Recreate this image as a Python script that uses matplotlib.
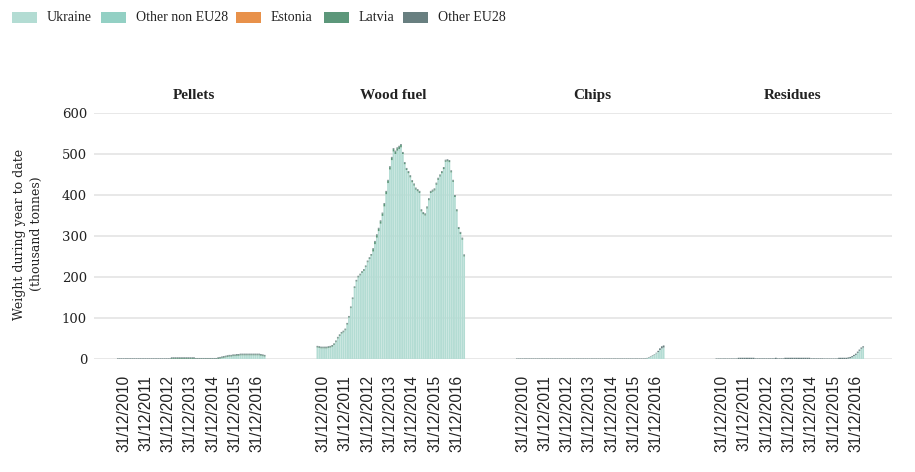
import matplotlib
matplotlib.use("Agg")
import matplotlib.pyplot as plt
import matplotlib.dates as mdates
from matplotlib.patches import Rectangle
import pandas as pd

# ---------------- data ----------------
panels = ["Pellets", "Wood fuel", "Chips", "Residues"]
series = ["Ukraine", "Other non EU28", "Estonia", "Latvia", "Other EU28"]
colors = ["#b3dcd3", "#93d0c4", "#e8914a", "#5c977a", "#687f80"]

months = pd.date_range("2010-09-30", periods=80, freq="ME")
tick_dates = ["2010-12-31", "2011-12-31", "2012-12-31", "2013-12-31",
              "2014-12-31", "2015-12-31", "2016-12-31"]
tick_labels = ["31/12/2010", "31/12/2011", "31/12/2012", "31/12/2013",
               "31/12/2014", "31/12/2015", "31/12/2016"]
y_ticks = [0, 100, 200, 300, 400, 500, 600]

ZEROS = [0] * 80  # series with no visible volume

# Pellets
pel_ukraine = [0, 0, 0, 0, 0, 0, 0, 0, 0, 0, 0, 0, 0, 0, 0, 0, 0, 0, 0, 0,
               0, 0, 0, 0, 0, 0, 0, 0, 0, 0, 0, 0, 0, 0, 0, 0, 0, 0, 0, 0,
               0, 0, 0, 0, 0, 0, 0, 0, 0, 0, 0, 0, 0, 0, 0, 1, 2, 3, 4, 5,
               6, 6, 7, 7, 8, 8, 9, 9, 9, 9, 9, 9, 9, 9, 9, 9, 9, 8, 7, 6]
pel_latvia = [0, 0, 0, 0, 0, 0, 0, 0, 0, 0, 0, 0, 0, 0, 0, 0, 0, 0, 0, 0,
              0, 0, 0, 0, 0, 0, 0, 0, 0, 2, 2, 2, 2, 2, 2, 2, 2, 2, 2, 2,
              2, 2, 1, 1, 1, 1, 1, 1, 1, 1, 1, 1, 1, 1, 2, 2, 2, 2, 2, 2,
              2, 2, 2, 2, 2, 2, 2, 2, 2, 2, 2, 2, 2, 2, 2, 2, 2, 2, 2, 2]
pel_other_eu = [1.5, 1.5, 1.5, 1.5, 1.5, 1.5, 1.5, 1.5, 1.5, 1.5, 1.5, 1.5, 1.5, 1.5, 1.5, 1.5, 1.5, 1.5, 1.5, 1.5,
                1.5, 1.5, 1.5, 1.5, 1.5, 1.5, 1.5, 1.5, 1.5, 2, 2, 2, 2, 2, 2, 2, 2, 2, 2, 2,
                2, 2, 1.5, 1.5, 1.5, 1.5, 1.5, 1.5, 1.5, 1.5, 1.5, 1.5, 1.5, 1.5, 2, 2, 2, 2, 2, 2,
                2, 2, 2, 2, 2, 2, 2, 2, 2, 2, 2, 2, 2, 2, 2, 2, 2, 2, 2, 2]

# Wood fuel
wood_ukraine = [28, 27, 26, 26, 26, 26, 27, 28, 30, 34, 41, 50, 56, 62, 65, 70,
                84, 101, 124, 146, 173, 189, 199, 204, 210, 215, 224, 236, 244, 252,
                262, 280, 296, 312, 330, 349, 372, 402, 429, 462, 485, 506, 500, 508,
                512, 516, 500, 475, 461, 453, 443, 431, 423, 413, 409, 405, 360, 353,
                350, 367, 387, 405, 408, 411, 425, 437, 445, 453, 463, 481, 482, 480,
                455, 432, 395, 360, 317, 305, 291, 250]
wood_latvia = [2, 2, 2, 2, 2, 2, 2, 2, 2, 2, 2, 2, 2, 2, 2, 2, 2, 2, 2, 2,
               2, 2, 2, 2, 2, 2, 2, 2, 2, 2, 6, 6, 6, 6, 6, 6, 6, 6, 6, 6,
               6, 6, 6, 6, 6, 6, 3, 3, 3, 3, 3, 3, 3, 3, 3, 3, 3, 3, 3, 3,
               3, 3, 3, 3, 3, 3, 3, 3, 3, 3, 3, 3, 3, 3, 3, 3, 3, 3, 3, 3]
wood_other_eu = [2, 2, 2, 2, 2, 2, 2, 2, 2, 2, 2, 2, 2, 2, 2, 2, 2, 2, 2, 2,
                 2, 2, 2, 2, 2, 2, 2, 2, 2, 2, 2, 2, 2, 2, 2, 2, 2, 2, 2, 2,
                 2, 2, 2, 2, 2, 2, 2, 2, 2, 2, 2, 2, 2, 2, 2, 2, 2, 2, 2, 2,
                 2, 2, 2, 2, 2, 2, 2, 2, 2, 2, 2, 2, 2, 2, 2, 2, 2, 2, 2, 2]

# Chips
chips_ukraine = [0, 0, 0, 0, 0, 0, 0, 0, 0, 0, 0, 0, 0, 0, 0, 0, 0, 0, 0, 0,
                 0, 0, 0, 0, 0, 0, 0, 0, 0, 0, 0, 0, 0, 0, 0, 0, 0, 0, 0, 0,
                 0, 0, 0, 0, 0, 0, 0, 0, 0, 0, 0, 0, 0, 0, 0, 0, 0, 0, 0, 0,
                 0, 0, 0, 0, 0, 0, 0, 0, 0, 0.5, 1.5, 3, 5, 8, 10, 14, 17, 22, 26, 28]
chips_other_eu = [1.2, 1.2, 1.2, 1.2, 1.2, 1.2, 1.2, 1.2, 1.2, 1.2, 1.2, 1.2, 1.2, 1.2, 1.2, 1.2, 1.2, 1.2, 1.2, 1.2,
                  1.2, 1.2, 1.2, 1.2, 1.2, 1.2, 1.2, 1.2, 1.2, 1.2, 1.2, 1.2, 1.2, 1.2, 1.2, 1.2, 1.2, 1.2, 1.2, 1.2,
                  1.2, 1.2, 1.2, 1.2, 1.2, 1.2, 1.2, 1.2, 1.2, 1.2, 1.2, 1.2, 1.2, 1.2, 1.2, 1.2, 1.2, 1.2, 1.2, 1.2,
                  1.2, 1.2, 1.2, 1.2, 1.2, 1.2, 1.2, 1.2, 1.2, 1.2, 1.2, 1.2, 1.2, 1.2, 1.2, 1.2, 3, 4, 5, 5]

# Residues
res_ukraine = [0, 0, 0, 0, 0, 0, 0, 0, 0, 0, 0, 0, 0, 0, 0, 0, 0, 0, 0, 0,
               0, 0, 0, 0, 0, 0, 0, 0, 0, 0, 0, 0, 0, 0, 0, 0, 0, 0, 0, 0,
               0, 0, 0, 0, 0, 0, 0, 0, 0, 0, 0, 0, 0, 0, 0, 0, 0, 0, 0, 0,
               0, 0, 0, 0, 0, 0, 0, 0, 0, 0, 0, 1, 2, 4, 7, 10, 15, 20, 25, 28]
res_other_eu = [1.2, 1.2, 1.2, 1.2, 1.2, 1.2, 1.2, 1.2, 1.2, 1.2, 1.2, 1.2, 3, 3, 3, 3, 3, 3, 3, 3,
                3, 1.5, 1.5, 1.5, 1.5, 1.5, 1.5, 1.5, 1.5, 1.5, 1.5, 1.5, 3, 1.5, 1.5, 1.5, 1.5, 3, 3, 3,
                3, 3, 3, 3, 3, 3, 3, 3, 3, 3, 3, 1.5, 1.5, 1.5, 1.5, 1.5, 1.5, 1.5, 1.2, 1.2,
                1.2, 1.2, 1.2, 1.2, 1.2, 1.2, 3, 3, 3, 3, 3, 3, 3, 3, 3, 3, 3, 3, 3, 3]

data = {
    "Pellets":   [pel_ukraine, ZEROS, ZEROS, pel_latvia, pel_other_eu],
    "Wood fuel": [wood_ukraine, ZEROS, ZEROS, wood_latvia, wood_other_eu],
    "Chips":     [chips_ukraine, ZEROS, ZEROS, ZEROS, chips_other_eu],
    "Residues":  [res_ukraine, ZEROS, ZEROS, ZEROS, res_other_eu],
}

# ---------------- plot ----------------
SERIF = "DejaVu Serif"
SERIF2 = "Liberation Serif"
SANS = "Liberation Sans"
TXT = "#222222"

W, H = 915, 472
fig = plt.figure(figsize=(W / 100, H / 100), dpi=100)

left_px, right_px = 94, 892
top_px, zero_px = 113, 359
pw = (right_px - left_px) / 4
px_per_day = 22.3 / 365.25
x0 = mdates.date2num(pd.Timestamp("2010-12-31"))
span_days = pw / px_per_day
lo = x0 - 29.5 / px_per_day

for k, name in enumerate(panels):
    ax = fig.add_axes([(left_px + k * pw) / W, (H - zero_px) / H,
                       pw / W, (zero_px - top_px) / H])
    bottom = [0.0] * len(months)
    for s, vals, col in zip(series, data[name], colors):
        ax.bar(months, vals, width=28.5, bottom=bottom, color=col,
               linewidth=0, align="center", snap=False)
        bottom = [b + v for b, v in zip(bottom, vals)]
    ax.set_xlim(lo, lo + span_days)
    ax.set_ylim(0, 600)
    ax.set_yticks(y_ticks)
    ax.yaxis.grid(True, color="#e6e6e6", linewidth=1.3)
    ax.set_axisbelow(True)
    for sp in ax.spines.values():
        sp.set_visible(False)
    ax.set_xticks(mdates.date2num(pd.to_datetime(tick_dates)))
    ax.set_xticklabels(tick_labels, rotation=90, fontsize=11.2,
                       family=SANS, color=TXT)
    ax.tick_params(axis="both", length=0)
    ax.tick_params(axis="x", pad=11.5)
    if k == 0:
        ax.set_yticklabels([str(v) for v in y_ticks], fontsize=9.5,
                           family=SERIF, color=TXT)
        ax.tick_params(axis="y", pad=5)
    else:
        ax.set_yticklabels([])
    ax.set_title(name, fontsize=11, family=SERIF2, fontweight="bold",
                 pad=10, color=TXT)

fig.text(28 / W, 1 - 234 / H, "Weight during year to date\n(thousand tonnes)",
         rotation=90, ha="center", va="center", multialignment="center",
         fontsize=9, family=SERIF, color=TXT, linespacing=1.35)

# legend, laid out entry by entry like the reference
legend_x_px = [12, 101, 236, 324, 403]
for xp, lab, col in zip(legend_x_px, series, colors):
    fig.patches.append(Rectangle((xp / W, 1 - 23 / H), 25 / W, 11 / H,
                                 transform=fig.transFigure, facecolor=col,
                                 edgecolor="none"))
    fig.text((xp + 35) / W, 1 - 17.5 / H, lab, ha="left", va="center",
             fontsize=10, family=SERIF2, color=TXT)

fig.savefig("out.png", dpi=100)
